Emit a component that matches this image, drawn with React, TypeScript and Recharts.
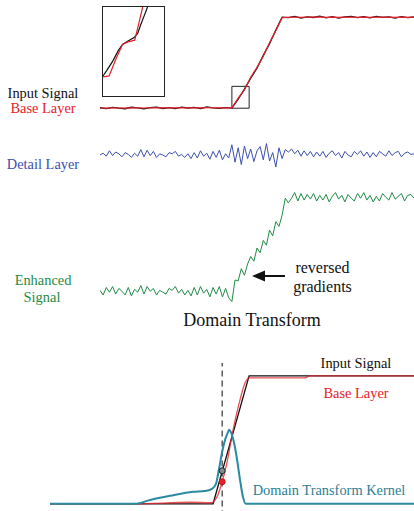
import React from 'react'
import { LineChart, Line, XAxis, YAxis, ReferenceArea, ReferenceLine, ReferenceDot } from 'recharts'

// top panel: input signal and base layer, one sample every 2 steps
const topInput = [
  0.005, -0.004, 0.008, 0.0, -0.006, 0.01, 0.003, -0.008, 0.006, 0.012, -0.003,
  0.007, -0.005, 0.011, 0.002, 0.009, -0.004, 0.013, 0.004, -0.002, 0.006,
  0.0, 0.1, 0.21, 0.33, 0.44, 0.58, 0.71, 0.86, 1.0,
  0.995, 1.008, 0.99, 1.004, 0.997, 1.012, 0.993, 1.006, 0.989, 1.003, 1.01,
  0.996, 1.005, 0.992, 1.009, 0.998, 1.004, 0.99, 1.007, 0.996, 1.002,
]
const topBase = [
  0.002, 0.001, 0.003, 0.002, 0.001, 0.004, 0.003, 0.002, 0.004, 0.005, 0.003,
  0.004, 0.003, 0.005, 0.004, 0.005, 0.004, 0.006, 0.005, 0.004, 0.005,
  0.004, 0.11, 0.2, 0.34, 0.45, 0.57, 0.72, 0.85, 0.995,
  0.998, 1.002, 0.999, 1.001, 1.0, 1.003, 0.998, 1.001, 0.997, 1.0, 1.002,
  0.999, 1.001, 0.998, 1.002, 1.0, 1.001, 0.998, 1.001, 0.999, 1.0,
]

// zoomed inset
const insetBlackX = [0, 0.6, 1.6, 2.5, 3.2, 4.1, 5.1, 5.7, 6.2, 6.7, 7.3]
const insetBlack = [2.3, 2.9, 4.0, 5.2, 5.9, 6.3, 6.7, 7.2, 8.2, 9.1, 10.2]
const insetRedX = [0, 1.0, 2.1, 3.2, 4.1, 5.2, 6.0, 6.5]
const insetRed = [2.2, 2.3, 4.2, 5.9, 6.2, 6.4, 8.7, 10.2]

const detail = [
  0.0, 0.15, -0.1, 0.35, -0.05, 0.25, 0.1, -0.15, 0.2, 0.05,
  -0.2, 0.15, -0.1, 0.45, -0.15, 0.4, -0.05, 0.3, -0.2, 0.1,
  0.0, -0.15, 0.2, 0.1, 0.3, -0.1, 0.05, -0.2, 0.1, -0.3,
  0.2, -0.25, 0.35, -0.1, 0.15, -0.35, 0.3, -0.2, 0.4, -0.4,
  0.1, -0.25, 0.85, -0.6, 0.6, -0.8, 0.75, -0.3, 0.5, -0.55,
  0.35, 0.7, -0.4, 0.95, -0.5, 0.2, -1.0, 0.6, -0.3, 0.45,
  0.25, 0.5, 0.1, 0.4, -0.1, 0.35, -0.05, 0.3, -0.15, 0.25,
  -0.1, 0.3, -0.2, 0.15, 0.35, -0.05, 0.2, -0.25, 0.3, 0.0,
  -0.15, 0.3, 0.05, 0.35, -0.1, 0.25, -0.2, 0.2, -0.15, 0.3,
  0.1, -0.1, 0.35, -0.05, 0.2, 0.3, -0.15, 0.15, 0.25, 0.05, 0.1,
]

const enhanced = [
  0.02, -0.03, 0.05, 0.0, 0.06, -0.02, 0.04, 0.01, -0.03, 0.05,
  -0.04, 0.03, 0.0, 0.07, -0.02, 0.06, 0.01, 0.04, -0.03, 0.02,
  0.0, -0.02, 0.04, 0.02, 0.06, -0.01, 0.03, -0.03, 0.02, -0.04,
  0.05, -0.03, 0.06, -0.01, 0.03, -0.05, 0.05, -0.02, 0.06, -0.05,
  0.04, -0.06,
  -0.1, 0.13, 0.12, 0.25, 0.18, 0.3, 0.38, 0.33, 0.47, 0.42,
  0.55, 0.5, 0.66, 0.6, 0.75, 0.7, 0.82, 1.0, 0.95,
  1.0, 1.06, 0.97, 1.05, 0.98, 1.04, 0.99, 1.05, 0.97, 1.03,
  0.98, 1.04, 0.96, 1.02, 1.06, 0.99, 1.03, 0.96, 1.04, 1.0,
  0.97, 1.05, 1.0, 1.06, 0.98, 1.03, 0.96, 1.02, 0.97, 1.05,
  1.01, 0.98, 1.06, 0.99, 1.02, 1.05, 0.97, 1.03, 1.04, 1.0,
]

// bottom panel: domain transform
const dtInputX = [0, 44.8, 54.7, 100]
const dtInput = [0, 0, 1, 1]
const dtBaseX = [0, 23.4, 38.5, 44.2, 45.9, 47.3, 48.6, 50.3, 52.2, 53.6, 54.7, 70, 71.4, 100]
const dtBase = [0, 0, 0.012, 0.008, 0.055, 0.172, 0.32, 0.578, 0.8125, 0.945, 0.984, 0.984, 1.0, 1.0]
const kernelX = [0, 23.4, 27.5, 33, 39.3, 42.6, 44.5, 45.6, 46.4, 47.3, 48.1, 48.9, 49.2, 49.7, 50.5, 51.4, 52.2, 53.0, 53.8, 100]
const kernel = [0, 0, 0.03, 0.0625, 0.094, 0.1, 0.117, 0.156, 0.266, 0.406, 0.5, 0.56, 0.578, 0.56, 0.484, 0.344, 0.1875, 0.055, 0, 0]
const samplePos = 47.3
const sampleInput = 0.258
const sampleBase = 0.172

const pts = (xs: number[], ys: number[]) => xs.map((x, i) => ({ x, y: ys[i] }))
const topData = topInput.map((v, i) => ({ x: i * 2, input: v, base: topBase[i] }))
const detailData = detail.map((v, i) => ({ x: i, y: v }))
const enhancedData = enhanced.map((v, i) => ({ x: i, y: v }))

const M = { top: 0, right: 0, bottom: 0, left: 0 }
const serif = "'Liberation Serif', serif"

export default function App() {
  return (
    <div style={{ position: 'absolute', left: 0, top: 0, width: 414, height: 511, overflow: 'hidden', background: '#fff', fontFamily: serif }}>
      <div style={{ position: 'absolute', left: 100, top: -1 }}>
        <LineChart width={314} height={127.4} data={topData} margin={M}>
          <XAxis type="number" dataKey="x" domain={[0, 100]} hide />
          <YAxis domain={[-0.2, 1.2]} hide />
          <ReferenceArea x1={42} x2={47.5} y1={0} y2={0.24} fill="none" stroke="#222" strokeWidth={1} />
          <Line dataKey="input" stroke="#111" strokeWidth={1.3} dot={false} isAnimationActive={false} />
          <Line dataKey="base" stroke="#e8202a" strokeWidth={1.2} dot={false} isAnimationActive={false} />
        </LineChart>
      </div>

      <div style={{ position: 'absolute', left: 102, top: 6, width: 61, height: 89, border: '1px solid #222' }}>
        <LineChart width={61} height={89} margin={M}>
          <XAxis type="number" dataKey="x" domain={[0, 10]} hide />
          <YAxis domain={[0, 10]} hide />
          <Line data={pts(insetBlackX, insetBlack)} dataKey="y" stroke="#111" strokeWidth={1.2} dot={false} isAnimationActive={false} />
          <Line data={pts(insetRedX, insetRed)} dataKey="y" stroke="#e8202a" strokeWidth={1.2} dot={false} isAnimationActive={false} />
        </LineChart>
      </div>

      <div style={{ position: 'absolute', left: 100, top: 131 }}>
        <LineChart width={314} height={48} data={detailData} margin={M}>
          <XAxis type="number" dataKey="x" domain={[0, 100]} hide />
          <YAxis domain={[-2, 2]} hide />
          <Line dataKey="y" stroke="#3c50ae" strokeWidth={1} dot={false} isAnimationActive={false} />
        </LineChart>
      </div>

      <div style={{ position: 'absolute', left: 100, top: 169.8 }}>
        <LineChart width={314} height={150.4} data={enhancedData} margin={M}>
          <XAxis type="number" dataKey="x" domain={[0, 100]} hide />
          <YAxis domain={[-0.3, 1.3]} hide />
          <Line dataKey="y" stroke="#1f8c45" strokeWidth={1} dot={false} isAnimationActive={false} />
        </LineChart>
      </div>

      <div style={{ position: 'absolute', left: 50, top: 363.2 }}>
        <LineChart width={364} height={153.6} margin={M}>
          <XAxis type="number" dataKey="x" domain={[0, 100]} hide />
          <YAxis domain={[-0.1, 1.1]} hide />
          <ReferenceLine x={samplePos} stroke="#333" strokeDasharray="6 4" strokeWidth={1.2} />
          <Line data={pts(dtInputX, dtInput)} dataKey="y" stroke="#111" strokeWidth={1.3} dot={false} isAnimationActive={false} />
          <Line data={pts(dtBaseX, dtBase)} dataKey="y" stroke="#e8202a" strokeOpacity={0.8} strokeWidth={1.3} type="monotone" dot={false} isAnimationActive={false} />
          <Line data={pts(kernelX, kernel)} dataKey="y" stroke="#2b8aa2" strokeWidth={2} type="monotone" dot={false} isAnimationActive={false} />
          <ReferenceDot x={samplePos} y={sampleInput} r={3} fill="#888" stroke="#222" strokeWidth={1} />
          <ReferenceDot x={samplePos} y={sampleBase} r={3} fill="#e8202a" stroke="#c01818" strokeWidth={1} />
        </LineChart>
      </div>

      <svg width={414} height={511} style={{ position: 'absolute', left: 0, top: 0, pointerEvents: 'none', fontFamily: serif }}>
        <g style={{ fontSize: 14.4, fontFamily: serif }} textAnchor="middle">
          <text x={43} y={98} fill="#111">Input Signal</text>
          <text x={43} y={113} fill="#e8202a">Base Layer</text>
          <text x={43} y={169} fill="#3c50ae">Detail Layer</text>
          <text x={43} y={285} fill="#1f8c45">Enhanced</text>
          <text x={42} y={302} fill="#1f8c45">Signal</text>
          <text x={356} y={368} fill="#111">Input Signal</text>
          <text x={356} y={398} fill="#e8202a">Base Layer</text>
          <text x={329} y={495} fill="#2b7f96">Domain Transform Kernel</text>
        </g>
        <g style={{ fontSize: 16, fontFamily: serif }} textAnchor="middle" fill="#111">
          <text x={322.5} y={273}>reversed</text>
          <text x={322.5} y={292}>gradients</text>
        </g>
        <text x={252} y={326} style={{ fontSize: 18, fontFamily: serif }} textAnchor="middle" fill="#111">Domain Transform</text>
        <line x1={285} y1={276} x2={262} y2={276} stroke="#111" strokeWidth={2} />
        <polygon points="252,276 265,270.5 265,281.5" fill="#111" />
      </svg>
    </div>
  )
}
